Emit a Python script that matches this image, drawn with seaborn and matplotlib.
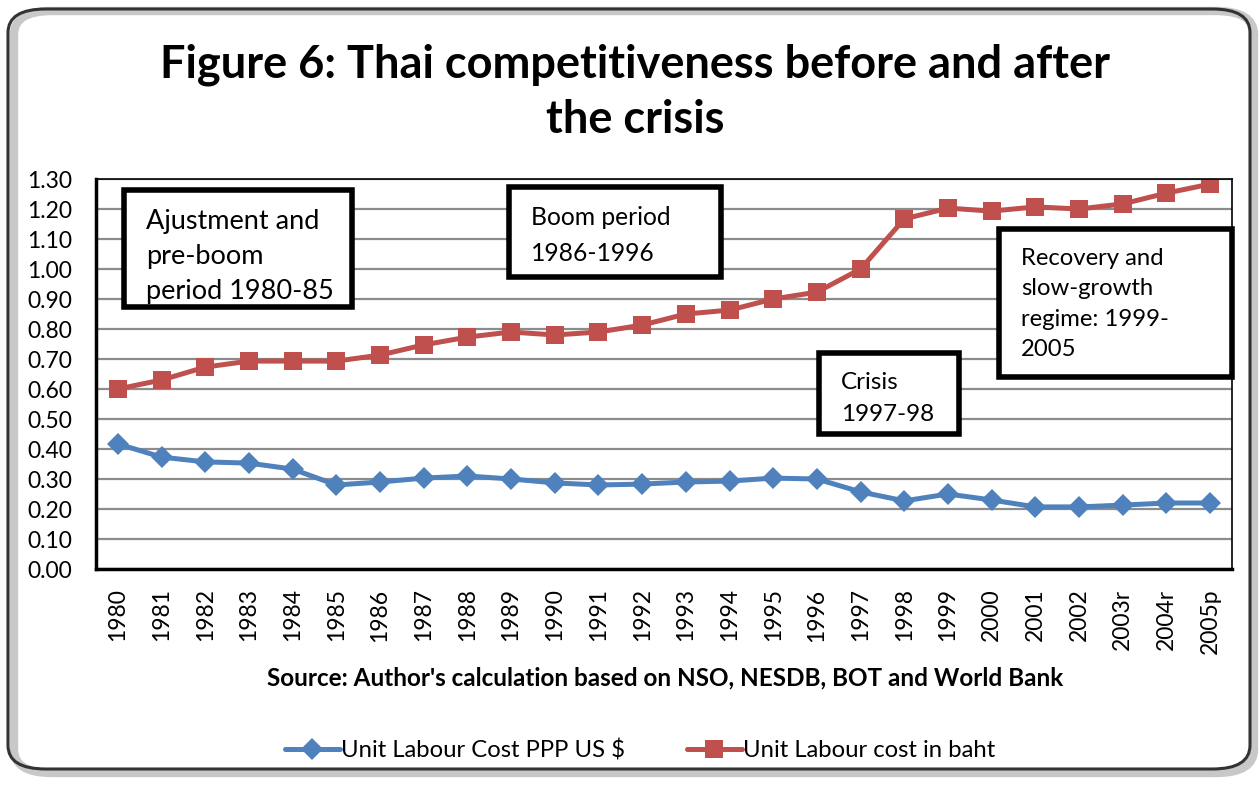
import numpy as np
import pandas as pd
import matplotlib.pyplot as plt
import seaborn as sns
from matplotlib.patches import FancyBboxPatch, Rectangle

# Chart data.
years = ['1980', '1981', '1982', '1983', '1984', '1985', '1986', '1987', '1988',
         '1989', '1990', '1991', '1992', '1993', '1994', '1995', '1996', '1997',
         '1998', '1999', '2000', '2001', '2002', '2003r', '2004r', '2005p']
ulc_ppp_usd = [0.417, 0.373, 0.357, 0.353, 0.333, 0.28, 0.29, 0.303, 0.31,
               0.30, 0.287, 0.28, 0.283, 0.29, 0.293, 0.303, 0.30, 0.257,
               0.227, 0.25, 0.23, 0.207, 0.207, 0.213, 0.22, 0.22]
ulc_baht = [0.60, 0.63, 0.673, 0.693, 0.693, 0.693, 0.713, 0.747, 0.773,
            0.79, 0.78, 0.79, 0.813, 0.85, 0.863, 0.90, 0.923, 1.00,
            1.167, 1.203, 1.193, 1.207, 1.20, 1.217, 1.253, 1.283]
series_names = ['Unit Labour Cost PPP US $', 'Unit Labour cost in baht']
series_colors = ['#4F81BD', '#C0504D']
y_ticks = [round(0.1 * i, 2) for i in range(14)]

title = 'Figure 6: Thai competitiveness before and after\nthe crisis'
source = "Source: Author's calculation based on NSO, NESDB, BOT and World Bank"
# period notes: text, box (left, top, right, bottom in pixels), font size, line spacing
notes = [
    ('Ajustment and\npre-boom\nperiod 1980-85', (124, 190, 352, 307), 19.5, 1.49),
    ('Boom period\n1986-1996', (509, 187, 721, 277), 17.7, 1.66),
    ('Crisis\n1997-98', (819, 353, 959, 434), 17.5, 1.63),
    ('Recovery and\nslow-growth\nregime: 1999-\n2005', (999, 229, 1232, 377), 17.2, 1.55),
]

df = pd.DataFrame({
    'year': years * 2,
    'value': ulc_ppp_usd + ulc_baht,
    'series': [series_names[0]] * len(years) + [series_names[1]] * len(years),
})

sns.set_style('white')
plt.rcParams['font.family'] = ['Lato', 'DejaVu Sans']
plt.rcParams['text.color'] = 'black'
plt.rcParams['xtick.color'] = 'black'
plt.rcParams['ytick.color'] = 'black'

W, H = 1259, 787
fig = plt.figure(figsize=(W / 100, H / 100), dpi=100)
ax = fig.add_axes([96 / W, 1 - 569 / H, (1232 - 96) / W, (569 - 179) / H])

sns.lineplot(data=df, x='year', y='value', hue='series', style='series',
             palette=dict(zip(series_names, series_colors)),
             markers=dict(zip(series_names, ['D', 's'])), dashes=False,
             linewidth=3.6, markeredgewidth=0, ax=ax, sort=False)
for line, ms in zip(ax.lines, [11, 13]):
    line.set_markersize(ms)

ax.set_xlim(-0.5, len(years) - 0.5)
ax.set_ylim(0, 1.3)
ax.set_yticks(y_ticks)
ax.set_yticklabels([f'{t:.2f}' for t in y_ticks], fontsize=16.5)
ax.set_xticks(range(len(years)))
ax.set_xticklabels(years, rotation=90, fontsize=16.5)
ax.set_xticks(np.arange(0.5, len(years) - 0.5), minor=True)
ax.tick_params(axis='x', which='major', length=0, pad=14)
ax.tick_params(axis='x', which='minor', length=7, width=2, direction='in', color='black')
ax.tick_params(axis='y', length=0, pad=17)
ax.grid(axis='y', color='#8c8c8c', linewidth=1.6)
ax.set_axisbelow(True)
ax.set_xlabel('')
ax.set_ylabel('')
for side in ['top', 'right']:
    ax.spines[side].set_color('black')
    ax.spines[side].set_linewidth(1.2)
for side in ['left', 'bottom']:
    ax.spines[side].set_color('black')
    ax.spines[side].set_linewidth(2.5)

handles, labels = ax.get_legend_handles_labels()
ax.get_legend().remove()
for h, ms in zip(handles, [11, 13]):
    h.set_markersize(ms)
fig.legend(handles, labels, loc='center', bbox_to_anchor=(640 / W, 1 - 750 / H),
           ncol=2, frameon=False, fontsize=17.2, handlelength=2.3,
           handletextpad=0.05, columnspacing=2.6)

# period note boxes
for text, (x0, y0, x1, y1), fs, ls in notes:
    fig.patches.append(Rectangle((x0 / W, 1 - y1 / H), (x1 - x0) / W, (y1 - y0) / H,
                                 transform=fig.transFigure, facecolor='white',
                                 edgecolor='black', linewidth=4, zorder=5))
    fig.text((x0 + 22) / W, 1 - (y0 + 19) / H, text, fontsize=fs, va='top', ha='left',
             linespacing=ls, zorder=6)

fig.suptitle(title, x=635 / W, y=1 - 43 / H, va='top', fontsize=32.5,
             fontweight='bold', linespacing=1.4)
fig.text(665 / W, 1 - 678 / H, source, ha='center', va='center',
         fontsize=17.5, fontweight='bold')

# outer rounded frame with a soft shadow
fig.patches.append(FancyBboxPatch((14 / W, 14 / H), 1240 / W, 762 / H,
                                  boxstyle='round,pad=0,rounding_size=0.03',
                                  transform=fig.transFigure, facecolor='none',
                                  edgecolor='#c8c8c8', linewidth=6, zorder=0))
fig.patches.append(FancyBboxPatch((8 / W, 18 / H), 1242 / W, 760 / H,
                                  boxstyle='round,pad=0,rounding_size=0.03',
                                  transform=fig.transFigure, facecolor='none',
                                  edgecolor='#333333', linewidth=2.2, zorder=1))

fig.savefig('out.png', dpi=100)
